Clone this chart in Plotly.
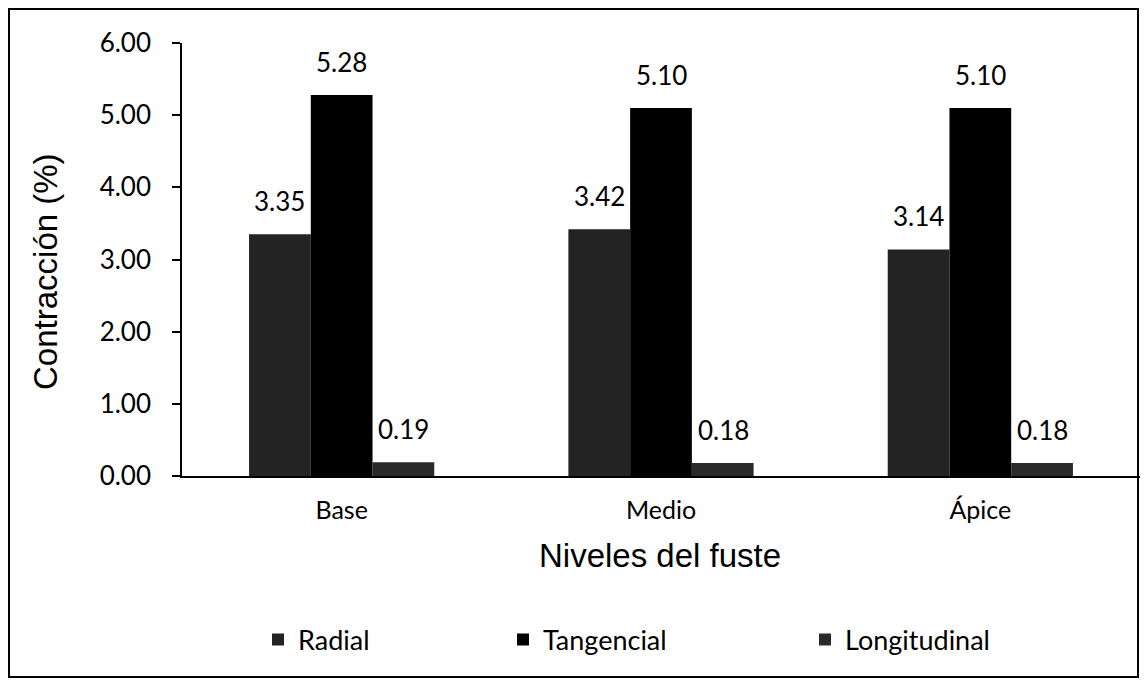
import plotly.graph_objects as go

categories = ["Base", "Medio", "Ápice"]
radial = [3.35, 3.42, 3.14]
tangencial = [5.28, 5.10, 5.10]
longitudinal = [0.19, 0.18, 0.18]
series_names = ["Radial", "Tangencial", "Longitudinal"]
y_ticks = [0, 1, 2, 3, 4, 5, 6]
x_title = "Niveles del fuste"
y_title = "Contracción (%)"

series = [radial, tangencial, longitudinal]
colors = ["#232323", "#000000", "#2a2a2a"]
legends = ["legend", "legend2", "legend3"]
label_shift = [-62, 0, 62]

# figure geometry (px); the page adds an 8px body margin
W, H = 1140, 673
ML, MR, MT, MB = 174, 8, 35, 205
PW, PH = W - ML - MR, H - MT - MB

def px_x(px):
    return (px - ML) / PW

def px_y(py):
    return (H - MB - py) / PH

fig = go.Figure()
for name, vals, col, lg in zip(series_names, series, colors, legends):
    fig.add_trace(go.Bar(
        x=categories, y=vals, name=name,
        marker=dict(color=col, line=dict(width=0)),
        legend=lg,
    ))

label_font = dict(family="Lato", size=26, color="#000")
annotations = []
for vals, dx in zip(series, label_shift):
    for c, v in zip(categories, vals):
        annotations.append(dict(
            x=c, y=v, xref="x", yref="y", text=f"{v:.2f}", showarrow=False,
            yanchor="bottom", xshift=dx, yshift=15, font=label_font,
        ))

title_font = dict(family="Liberation Sans", size=33, color="#000")
annotations.append(dict(
    x=px_x(652), y=px_y(547), xref="paper", yref="paper", text=x_title,
    showarrow=False, xanchor="center", yanchor="middle", font=title_font,
))
annotations.append(dict(
    x=px_x(37), y=px_y(264), xref="paper", yref="paper", text=y_title,
    showarrow=False, xanchor="center", yanchor="middle", textangle=-90,
    font=title_font,
))

legend_font = dict(family="Lato", size=27, color="#000")
leg_common = dict(orientation="h", yanchor="middle", xanchor="left",
                  bgcolor="rgba(0,0,0,0)", font=legend_font,
                  itemwidth=30, tracegroupgap=0)

fig.update_layout(
    width=W, height=H,
    margin=dict(l=ML, r=MR, t=MT, b=MB),
    plot_bgcolor="white", paper_bgcolor="white",
    barmode="group", bargap=0.42, bargroupgap=0,
    showlegend=True,
    legend=dict(x=px_x(250), y=px_y(632), **leg_common),
    legend2=dict(x=px_x(495), y=px_y(632), **leg_common),
    legend3=dict(x=px_x(797), y=px_y(632), **leg_common),
    annotations=annotations,
    xaxis=dict(
        showline=True, linecolor="#000", linewidth=1.5, ticks="",
        tickfont=dict(family="Lato", size=25, color="#000"),
        ticklabelstandoff=11,
        showgrid=False, zeroline=False,
    ),
    yaxis=dict(
        range=[0, 6], tickvals=y_ticks, tickformat=".2f",
        showline=True, linecolor="#000", linewidth=1.5,
        ticks="outside", ticklen=8, tickcolor="#000", tickwidth=1.5,
        tickfont=dict(family="Lato", size=26, color="#000"),
        ticklabelstandoff=16,
        showgrid=False, zeroline=False,
    ),
    shapes=[dict(
        type="rect", xref="paper", yref="paper",
        x0=px_x(1), x1=px_x(1130),
        y0=px_y(669), y1=px_y(1),
        line=dict(color="#000", width=2), fillcolor="rgba(0,0,0,0)", layer="above",
    )],
)

fig.write_html("out.html")
